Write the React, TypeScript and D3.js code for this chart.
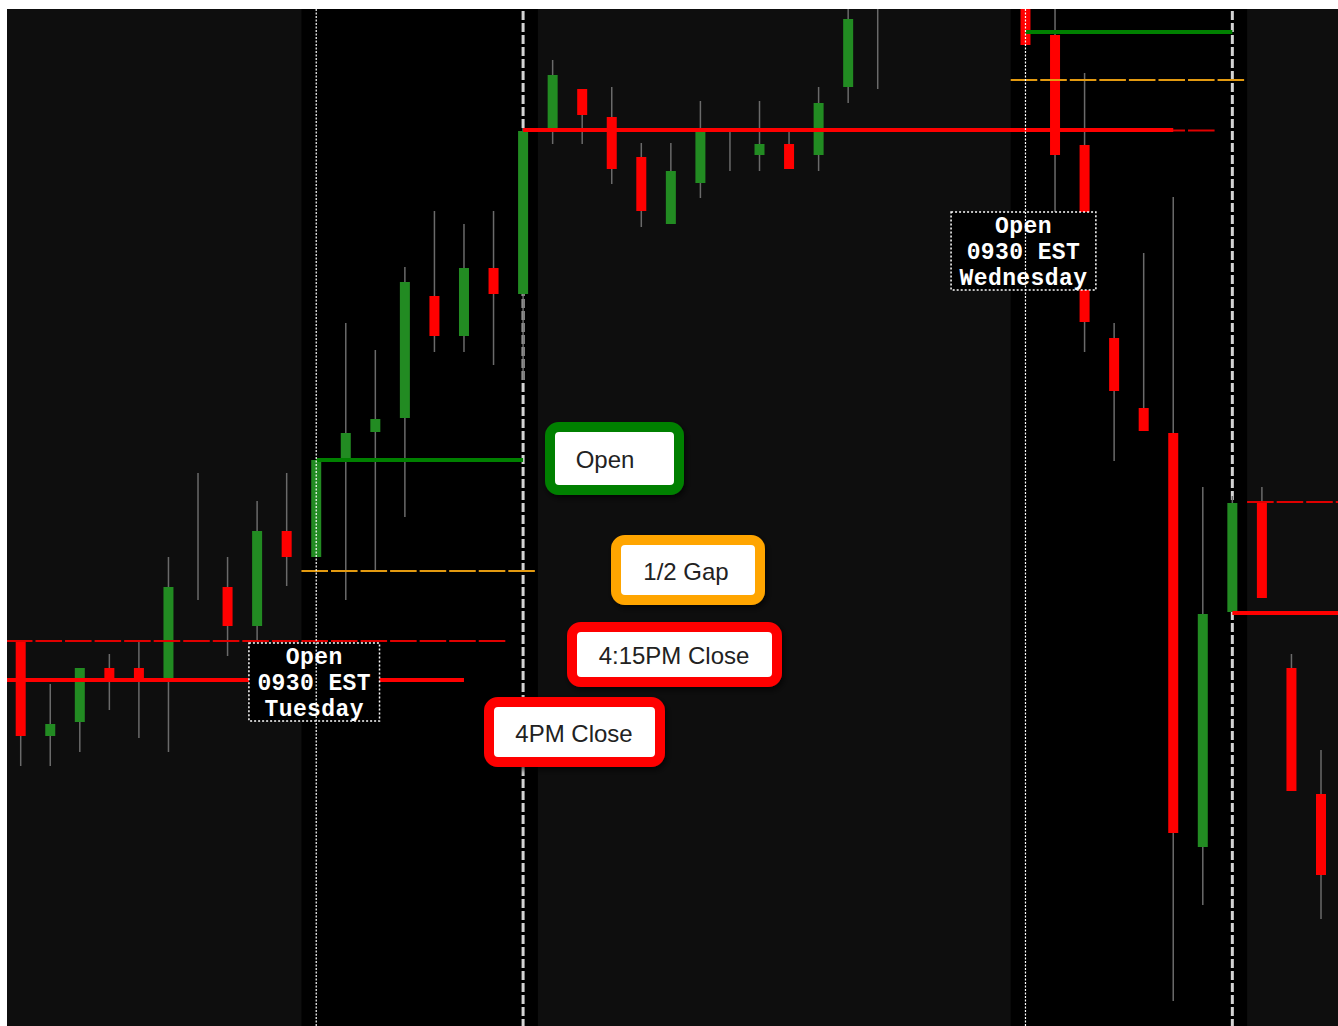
import React, { useEffect, useRef } from "react";
import * as d3 from "d3";

const WIDTH = 1338;
const HEIGHT = 1026;
const PLOT_LEFT = 7;
const PLOT_TOP = 9;

// hourly bars, index 0 = first bar on screen (Monday evening)
const OPEN = [
  4138.5, 4129.0, 4130.4, 4135.8, 4135.8, 4134.7, 4148.0, 4143.9, 4140.0, 4149.5,
  4146.9, 4156.8, 4159.4, 4160.8, 4173.0, 4169.0, 4175.8, 4173.2, 4189.8, 4193.7,
  4190.9, 4186.9, 4180.2, 4184.3, 4189.5, 4187.1, 4188.2, 4187.1, 4193.9, 4204.0,
  4202.5, 4207.0, 4210.0, 4206.0, 4203.5, 4199.1, 4188.1, 4168.8, 4161.8, 4159.3,
  4117.9, 4141.4, 4152.3, 4135.8, 4123.2,
];
const HIGH = [
  4138.5, 4134.2, 4135.8, 4137.2, 4138.4, 4146.9, 4155.3, 4146.9, 4152.5, 4155.3,
  4156.6, 4170.3, 4167.6, 4175.9, 4181.5, 4180.2, 4181.5, 4189.8, 4196.6, 4193.7,
  4193.9, 4188.3, 4188.3, 4192.5, 4189.8, 4192.5, 4189.4, 4193.9, 4203.6, 4206.5,
  4209.0, 4212.0, 4213.0, 4209.0, 4204.5, 4204.0, 4195.3, 4170.3, 4177.3, 4182.9,
  4153.9, 4153.0, 4153.9, 4137.2, 4127.6,
];
const LOW = [
  4126.0, 4126.0, 4127.4, 4131.6, 4128.8, 4127.4, 4142.6, 4137.0, 4138.4, 4144.0,
  4146.9, 4142.6, 4145.4, 4150.9, 4167.4, 4167.4, 4166.1, 4164.6, 4188.2, 4188.2,
  4184.2, 4179.9, 4180.2, 4182.8, 4185.5, 4185.5, 4185.7, 4185.5, 4192.3, 4193.7,
  4201.9, 4204.0, 4205.0, 4203.0, 4198.1, 4181.1, 4167.4, 4156.5, 4159.5, 4102.5,
  4112.1, 4141.4, 4142.8, 4123.5, 4110.7,
];
const CLOSE = [
  4129.0, 4130.2, 4135.8, 4134.6, 4134.6, 4143.9, 4148.0, 4140.0, 4149.5, 4146.9,
  4156.6, 4159.3, 4160.7, 4174.4, 4169.0, 4175.8, 4173.2, 4189.5, 4195.1, 4191.1,
  4185.7, 4181.5, 4185.5, 4189.4, 4189.5, 4188.2, 4185.7, 4192.3, 4200.7, 4202.5,
  4207.0, 4210.0, 4206.0, 4204.5, 4198.1, 4187.1, 4170.4, 4163.5, 4159.5, 4119.3,
  4141.2, 4152.3, 4142.8, 4123.5, 4115.1,
];

// regular sessions (in bar index units)
const SESSIONS = [
  { from: 9.5, to: 17.5 },
  { from: 33.5, to: 41.5 },
];
const OPEN_MARKS = [10, 34];
const CLOSE_MARKS = [17, 41];

const LEVELS = [
  { kind: "close415", price: 4138.5, from: -0.5, to: 16.5 },
  { kind: "close4", price: 4134.6, from: -0.5, to: 15 },
  { kind: "halfGap", price: 4145.5, from: 9.5, to: 17.5 },
  { kind: "open", price: 4156.6, from: 10, to: 17 },
  { kind: "close415", price: 4189.55, from: 17.5, to: 40.5 },
  { kind: "close4", price: 4189.6, from: 17, to: 39 },
  { kind: "halfGap", price: 4194.6, from: 33.5, to: 41.5 },
  { kind: "open", price: 4199.4, from: 34, to: 41 },
  { kind: "close415", price: 4152.4, from: 41.5, to: 45 },
  { kind: "close4", price: 4141.3, from: 41, to: 45 },
];

const OPEN_LABELS = [
  { idx: 10, price: 4138.3, lines: ["Open", "0930 EST", "Tuesday"] },
  { idx: 34, price: 4181.4, lines: ["Open", "0930 EST", "Wednesday"] },
];

const LEGEND_LABELS = ["Open", "1/2 Gap", "4:15PM Close", "4PM Close"];
const LEGEND_COLORS = ["#008000", "#FFA500", "#FF0000", "#FF0000"];
// layout of the legend boxes (px)
const LEGEND_BOXES = [
  { x: 545, y: 422, w: 139, h: 73, tx: 605 },
  { x: 611, y: 535, w: 154, h: 70, tx: 686 },
  { x: 567, y: 622, w: 215, h: 65, tx: 674 },
  { x: 484, y: 697, w: 181, h: 70, tx: 574 },
];

const UP = "#228B22";
const DOWN = "#FF0000";

const App: React.FC = () => {
  const svgRef = useRef<SVGSVGElement | null>(null);

  useEffect(() => {
    if (!svgRef.current) return;
    const svg = d3.select(svgRef.current);
    svg.selectAll("*").remove();

    const bars = OPEN.map((o, i) => ({ i, o, h: HIGH[i], l: LOW[i], c: CLOSE[i] }));

    const x = d3.scaleLinear().domain([0, bars.length - 1]).range([20.7, 1321]);
    const y = d3.scaleLinear().domain([4100, 4201.8]).range([1026, 8]);
    const step = x(1) - x(0);

    const defs = svg.append("defs");
    defs.append("clipPath").attr("id", "plot-clip")
      .append("rect")
      .attr("x", PLOT_LEFT).attr("y", PLOT_TOP)
      .attr("width", WIDTH - PLOT_LEFT).attr("height", HEIGHT - PLOT_TOP);
    const shadow = defs.append("filter").attr("id", "legend-shadow")
      .attr("x", "-20%").attr("y", "-20%").attr("width", "140%").attr("height", "150%");
    shadow.append("feDropShadow")
      .attr("dx", 2).attr("dy", 3).attr("stdDeviation", 3)
      .attr("flood-color", "#000").attr("flood-opacity", 0.7);

    svg.append("rect").attr("width", WIDTH).attr("height", HEIGHT).attr("fill", "#fff");

    const g = svg.append("g").attr("clip-path", "url(#plot-clip)");

    // background + session shading
    g.append("rect")
      .attr("x", PLOT_LEFT).attr("y", PLOT_TOP)
      .attr("width", WIDTH - PLOT_LEFT).attr("height", HEIGHT - PLOT_TOP)
      .attr("fill", "#0e0e0e");
    g.selectAll(".session").data(SESSIONS).enter().append("rect")
      .attr("x", d => x(d.from)).attr("y", PLOT_TOP)
      .attr("width", d => x(d.to) - x(d.from)).attr("height", HEIGHT - PLOT_TOP)
      .attr("fill", "#000");

    // 4PM close markers (under the bars)
    g.selectAll(".close-mark").data(CLOSE_MARKS).enter().append("line")
      .attr("x1", d => x(d)).attr("x2", d => x(d))
      .attr("y1", PLOT_TOP + 2).attr("y2", HEIGHT)
      .attr("stroke", "#d4d4d4").attr("stroke-width", 3)
      .attr("stroke-dasharray", "9,3");

    // candles
    g.selectAll(".wick").data(bars).enter().append("line")
      .attr("x1", d => x(d.i)).attr("x2", d => x(d.i))
      .attr("y1", d => y(d.h)).attr("y2", d => y(d.l))
      .attr("stroke", "#6a6a6a").attr("stroke-width", 1.5);
    g.selectAll(".body").data(bars).enter().append("rect")
      .attr("x", d => x(d.i) - 5)
      .attr("y", d => y(Math.max(d.o, d.c)))
      .attr("width", 10)
      .attr("height", d => Math.abs(y(d.o) - y(d.c)))
      .attr("fill", d => (d.c >= d.o ? UP : DOWN));

    // levels
    const levelStyle: Record<string, { color: string; width: number; dash: string | null }> = {
      close415: { color: "#e00000", width: 2, dash: `${step - 3},3` },
      close4: { color: "#ff0000", width: 4, dash: null },
      halfGap: { color: "#e39a10", width: 2, dash: `${step - 3},3` },
      open: { color: "#008000", width: 4, dash: null },
    };
    LEVELS.forEach(lv => {
      const s = levelStyle[lv.kind];
      g.append("line")
        .attr("x1", x(lv.from)).attr("x2", x(lv.to))
        .attr("y1", y(lv.price)).attr("y2", y(lv.price))
        .attr("stroke", s.color).attr("stroke-width", s.width)
        .attr("stroke-dasharray", s.dash);
    });

    // open labels
    OPEN_LABELS.forEach(lb => {
      const maxChars = d3.max(lb.lines, t => t.length) || 0;
      const w = maxChars * 14.2 + 17;
      const cx = x(lb.idx) - 2;
      const top = y(lb.price);
      g.append("rect")
        .attr("x", cx - w / 2).attr("y", top)
        .attr("width", w).attr("height", 78)
        .attr("fill", "#000")
        .attr("stroke", "#fff").attr("stroke-width", 1.5)
        .attr("stroke-dasharray", "2,2");
      lb.lines.forEach((t, k) => {
        g.append("text")
          .attr("x", cx).attr("y", top + 15 + k * 26)
          .attr("text-anchor", "middle")
          .attr("dominant-baseline", "central")
          .attr("fill", "#fff")
          .style("font-family", "'Liberation Mono', 'DejaVu Sans Mono', monospace")
          .style("font-weight", "bold")
          .style("font-size", "23px")
          .style("letter-spacing", "0.4px")
          .text(t);
      });
    });

    // 0930 open markers on top
    g.selectAll(".open-mark").data(OPEN_MARKS).enter().append("line")
      .attr("x1", d => x(d)).attr("x2", d => x(d))
      .attr("y1", PLOT_TOP).attr("y2", HEIGHT)
      .attr("stroke", "#fff").attr("stroke-width", 1.2)
      .attr("stroke-dasharray", "2,1.5");

    // legend
    LEGEND_LABELS.forEach((label, k) => {
      const b = LEGEND_BOXES[k];
      const lg = svg.append("g");
      lg.append("rect")
        .attr("x", b.x + 5).attr("y", b.y + 5)
        .attr("width", b.w - 10).attr("height", b.h - 10)
        .attr("rx", 9).attr("ry", 9)
        .attr("fill", "#fff")
        .attr("stroke", LEGEND_COLORS[k]).attr("stroke-width", 10)
        .attr("filter", "url(#legend-shadow)");
      lg.append("text")
        .attr("x", b.tx).attr("y", b.y + b.h / 2 + 1)
        .attr("text-anchor", "middle")
        .attr("dominant-baseline", "central")
        .attr("fill", "#222")
        .style("font-family", "'Liberation Sans', Arial, sans-serif")
        .style("font-size", "24px")
        .text(label);
    });
  }, []);

  return (
    <div
      style={{
        position: "fixed",
        left: 0,
        top: 0,
        width: WIDTH,
        height: HEIGHT,
        overflow: "hidden",
        background: "#fff",
      }}
    >
      <svg ref={svgRef} width={WIDTH} height={HEIGHT} style={{ display: "block" }} />
    </div>
  );
};

export default App;
